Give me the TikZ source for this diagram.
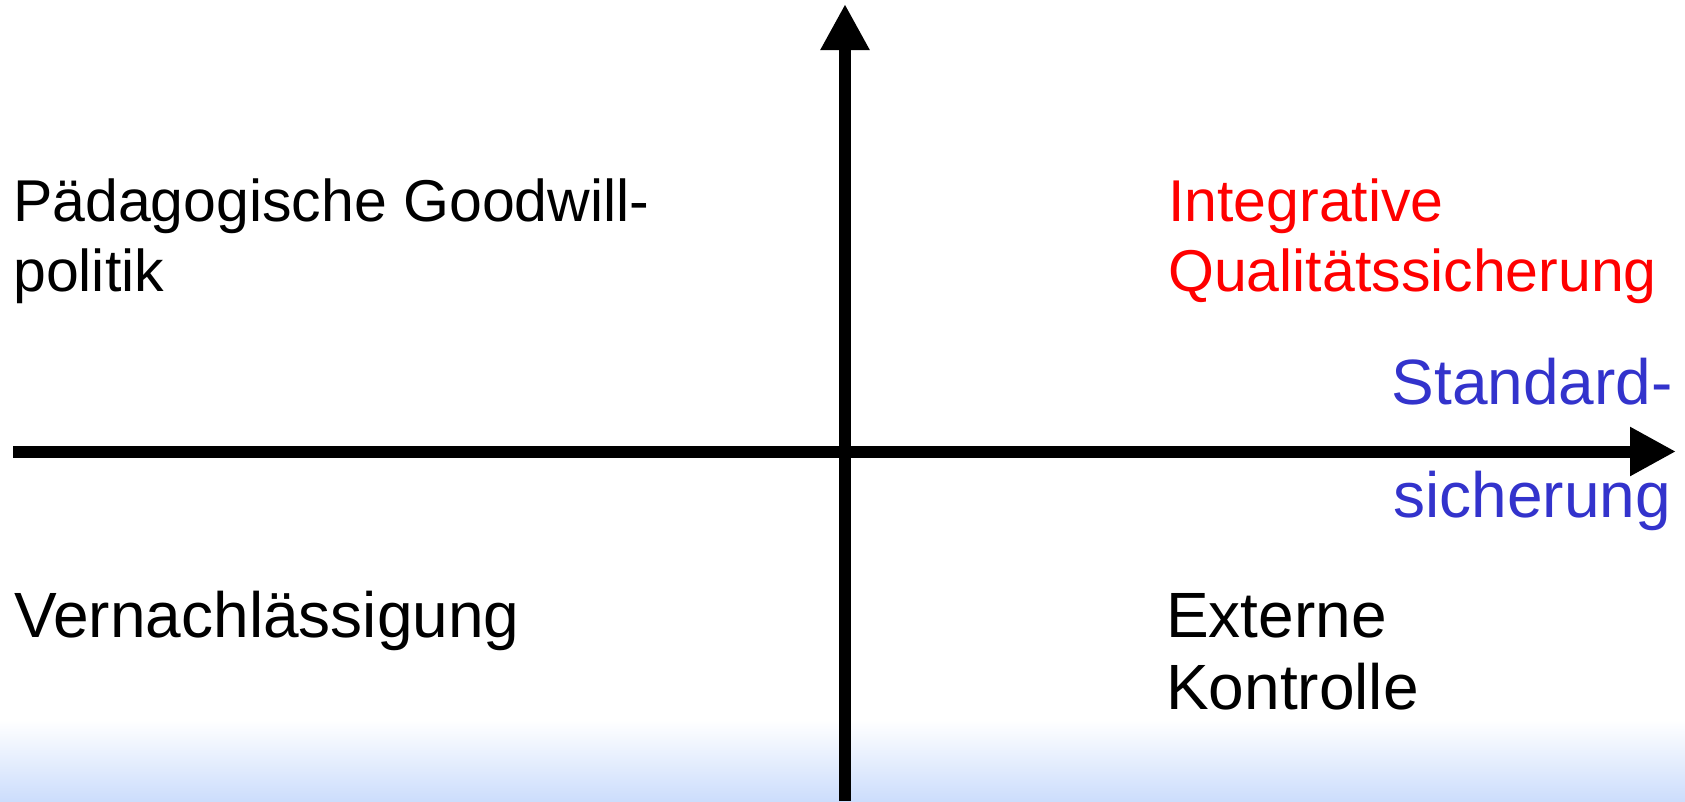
\documentclass[tikz,border=0pt]{standalone}
\usepackage{fontspec}
\setmainfont{Liberation Sans}
\usetikzlibrary{arrows.meta}
\definecolor{lblue}{RGB}{204,221,252}
\definecolor{tblue}{RGB}{51,51,204}
\definecolor{tred}{RGB}{255,0,0}
\begin{document}
\begin{tikzpicture}[x=1pt,y=-1pt,
  lbl/.style={inner sep=0pt,font=\fontsize{59}{71}\selectfont},
  lblb/.style={inner sep=0pt,font=\fontsize{64}{77}\selectfont},
  axis/.style={line width=12pt,-{Triangle[length=46pt,width=46pt]}}]
\useasboundingbox (0,0) rectangle (1685,801);
\fill[white] (0,0) rectangle (1685,801);
\shade[top color=white,bottom color=lblue] (0,720) rectangle (1685,801);
\coordinate (vb) at (845,801);
\coordinate (vt) at (845,4);
\coordinate (hl) at (13,451.5);
\coordinate (hr) at (1676,451.5);
\draw[axis] (hl) -- (hr);
\draw[axis] (vb) -- (vt);
\node[lbl,anchor=base west] (pg1) at (13,221) {Pädagogische Goodwill-};
\node[lbl,anchor=base west] (pg2) at (13,291) {politik};
\node[lbl,anchor=base west,text=tred] (iq1) at (1168,221) {Integrative};
\node[lbl,anchor=base west,text=tred] (iq2) at (1168,291) {Qualitätssicherung};
\node[lblb,anchor=base east,text=tblue] (ss1) at (1673,404) {Standard-};
\node[lblb,anchor=base east,text=tblue] (ss2) at (1671,517) {sicherung};
\node[lblb,anchor=base west] (vn) at (14,637) {Vernachlässigung};
\node[lblb,anchor=base west] (ek1) at (1166,637) {Externe};
\node[lblb,anchor=base west] (ek2) at (1166,709) {Kontrolle};
\end{tikzpicture}
\end{document}
